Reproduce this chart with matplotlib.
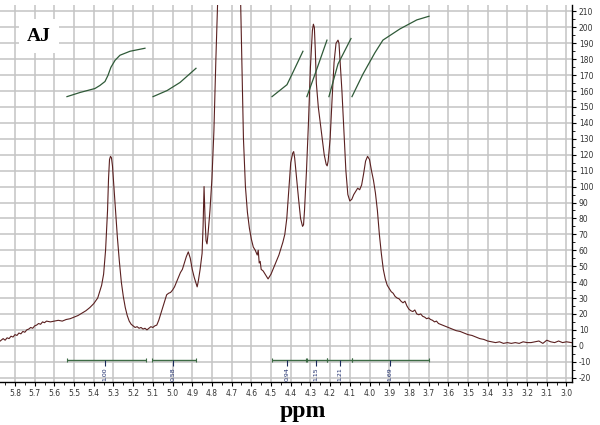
import numpy as np
import matplotlib
matplotlib.use("Agg")
import matplotlib.pyplot as plt
from matplotlib.ticker import MultipleLocator, FormatStrFormatter

# spectrum (ppm, intensity)
ppm = [5.875, 5.86, 5.85, 5.84, 5.83, 5.82, 5.81, 5.80, 5.79, 5.78, 5.77, 5.76, 5.75, 5.74,
       5.73, 5.72, 5.71, 5.70, 5.69, 5.68, 5.67, 5.66, 5.65, 5.64, 5.62, 5.60, 5.58, 5.56,
       5.54, 5.52, 5.50, 5.48, 5.46, 5.44, 5.42, 5.40, 5.38, 5.36, 5.35, 5.34, 5.33, 5.325,
       5.32, 5.315, 5.31, 5.305, 5.30, 5.29, 5.28, 5.27, 5.26, 5.25, 5.24, 5.23, 5.22, 5.21,
       5.20, 5.19, 5.18, 5.17, 5.16, 5.15, 5.14, 5.13, 5.12, 5.11, 5.10, 5.09, 5.08, 5.07,
       5.06, 5.05, 5.04, 5.03, 5.02, 5.01, 5.00, 4.99, 4.98, 4.97, 4.96, 4.95, 4.94, 4.93,
       4.92, 4.91, 4.90, 4.89, 4.88, 4.875, 4.87, 4.86, 4.85, 4.845, 4.84, 4.835, 4.83, 4.825,
       4.82, 4.81, 4.80, 4.79, 4.78, 4.76, 4.74, 4.72, 4.70, 4.68, 4.66, 4.65, 4.64, 4.63,
       4.62, 4.61, 4.60, 4.59, 4.58, 4.57, 4.565, 4.56, 4.555, 4.55, 4.54, 4.53, 4.52, 4.515,
       4.51, 4.50, 4.49, 4.48, 4.47, 4.46, 4.45, 4.44, 4.43, 4.42, 4.41, 4.40, 4.39, 4.385,
       4.38, 4.37, 4.36, 4.35, 4.34, 4.335, 4.33, 4.32, 4.31, 4.30, 4.29, 4.285, 4.28, 4.275,
       4.27, 4.26, 4.25, 4.24, 4.23, 4.22, 4.215, 4.21, 4.20, 4.19, 4.18, 4.17, 4.16, 4.155,
       4.15, 4.14, 4.13, 4.12, 4.11, 4.10, 4.09, 4.08, 4.07, 4.06, 4.05, 4.04, 4.03, 4.02,
       4.01, 4.00, 3.99, 3.98, 3.97, 3.96, 3.95, 3.94, 3.93, 3.92, 3.91, 3.90, 3.89, 3.88,
       3.87, 3.86, 3.85, 3.84, 3.83, 3.82, 3.81, 3.80, 3.79, 3.78, 3.77, 3.76, 3.75, 3.74,
       3.73, 3.72, 3.71, 3.70, 3.69, 3.68, 3.67, 3.66, 3.65, 3.64, 3.63, 3.62, 3.61, 3.60,
       3.58, 3.56, 3.54, 3.52, 3.50, 3.48, 3.46, 3.44, 3.42, 3.40, 3.38, 3.36, 3.34, 3.32,
       3.30, 3.28, 3.26, 3.24, 3.22, 3.20, 3.18, 3.16, 3.14, 3.12, 3.10, 3.08, 3.06, 3.04,
       3.02, 3.00, 2.975]
intensity = [3, 4.5, 3.5, 5, 4.5, 6, 5.5, 7, 6.5, 8, 7.5, 9, 8.5, 10,
             10.5, 11.5, 11, 12.5, 13, 14, 13.5, 15, 14.5, 15.5, 15, 15.5, 16, 15.5,
             16.5, 17, 18, 19, 20.5, 22, 24, 26.5, 30, 38, 45, 60, 85, 105,
             117, 119, 118, 113, 104, 85, 68, 53, 40, 31, 24, 19, 15.5, 13.5,
             12.5, 11.5, 12, 11, 11.5, 10.5, 11, 10, 11, 12, 11.5, 12.5, 13, 16,
             20, 24, 28, 32, 33, 33.5, 35, 37, 40, 43, 46, 48, 52, 56,
             59, 55, 48, 43, 39, 37, 40, 48, 58, 75, 100, 80, 66, 64,
             70, 85, 105, 135, 180, 260, 340, 380, 360, 290, 250, 190, 130, 100,
             84, 74, 67, 62, 60, 57, 60, 52, 53, 48, 47, 45, 43, 42,
             43, 45, 48, 51, 54, 57, 61, 65, 70, 80, 98, 115, 121, 122,
             118, 105, 92, 80, 75, 76, 85, 110, 140, 175, 198, 202, 200, 185,
             165, 150, 140, 130, 120, 114, 113, 116, 130, 155, 178, 190, 192, 190,
             180, 160, 135, 110, 95, 91, 92, 95, 97, 99, 98, 101, 108, 116,
             119, 117, 110, 104, 96, 85, 70, 58, 48, 42, 38, 36, 34, 33,
             31, 30, 29.5, 28, 27, 28, 25, 23, 22, 21.5, 22.5, 20, 19.5, 20,
             18.5, 18, 17, 17.5, 16.5, 16, 15, 15.5, 14, 13.5, 13, 12.5, 12, 11.5,
             10.5, 9.5, 9, 8, 7, 6.5, 5.5, 4.5, 4, 3, 2.5, 2, 2.5, 1.5,
             2, 1.5, 2, 1.5, 2.5, 2, 2, 2.5, 3, 1.5, 3.5, 2.5, 2, 3,
             2, 2.5, 2]

# integral curves (green)
int_ppm = [
    [5.536, 5.470, 5.394, 5.369, 5.343, 5.328, 5.313, 5.292, 5.267, 5.216, 5.140],
    [5.099, 5.028, 4.962, 4.881],
    [4.495, 4.419, 4.389, 4.338],
    [4.318, 4.277, 4.216],
    [4.206, 4.160, 4.094],
    [4.089, 4.034, 3.973, 3.932, 3.846, 3.760, 3.698],
]
int_val = [
    [156.5, 159.1, 161.6, 163.5, 166.0, 169.8, 174.9, 179.3, 182.5, 185.0, 186.9],
    [156.5, 160.3, 165.4, 174.3],
    [156.5, 164.0, 171.7, 185.0],
    [156.5, 170.5, 192.0],
    [156.5, 177.0, 193.0],
    [156.5, 170.5, 184.0, 192.0, 199.0, 204.7, 207.0],
]

# integration ranges and values
rng_start = [5.536, 5.105, 4.495, 4.318, 4.216, 4.089]
rng_end = [5.135, 4.881, 4.323, 4.216, 4.089, 3.698]
rng_mid = [5.343, 4.998, 4.419, 4.272, 4.150, 3.896]
rng_label = ["1.00", "0.58", "0.94", "1.15", "1.21", "1.69"]

fig = plt.figure(figsize=(6, 4.25), dpi=100)
ax = fig.add_axes([0.0, 0.101, 0.953, 0.887])

ax.plot(ppm, intensity, color="#5a2020", lw=0.8)

for xs, ys in zip(int_ppm, int_val):
    ax.plot(xs, ys, color="#2f5a38", lw=0.9)

bar_y = -9
green = "#3d6b45"
ax.hlines([bar_y] * len(rng_start), rng_start, rng_end, color=green, lw=1.0)
ax.vlines(rng_start + rng_end, bar_y - 1.5, bar_y + 1.5, color=green, lw=0.8)
ax.vlines(rng_mid, bar_y - 4, bar_y, color="#1a2a5a", lw=0.8)
for xm, lab in zip(rng_mid, rng_label):
    ax.text(xm, -13.5, lab, rotation=90, ha="center", va="top",
            fontsize=4.5, color="#1a2a6a")

ax.set_xlim(5.876, 2.973)
ax.set_ylim(-22.8, 214)

# grid and axes
ax.xaxis.set_major_locator(MultipleLocator(0.1))
ax.xaxis.set_minor_locator(MultipleLocator(0.05))
ax.xaxis.set_major_formatter(FormatStrFormatter("%.1f"))
ax.yaxis.set_major_locator(MultipleLocator(10))
ax.yaxis.set_minor_locator(MultipleLocator(5))
ax.yaxis.tick_right()
ax.grid(True, which="major", color="#c4c4c4", lw=1.1)
ax.set_axisbelow(True)
ax.spines["top"].set_visible(False)
ax.spines["left"].set_visible(False)
ax.spines["right"].set_linewidth(1.0)
ax.spines["bottom"].set_linewidth(1.0)
ax.tick_params(axis="both", which="major", direction="out", length=3, width=0.8,
               labelsize=5.5, labelcolor="#333333", pad=2)
ax.tick_params(axis="both", which="minor", direction="out", length=2, width=0.6)
ax.yaxis.set_major_formatter(plt.FuncFormatter(lambda v, p: "%d" % v if v >= 0 else "-%d" % -v))

ax.text(0.065, 0.915, "AJ", transform=fig.transFigure, ha="center", va="center",
        fontsize=14, fontweight="bold", family="Liberation Serif",
        bbox=dict(facecolor="white", edgecolor="none", pad=6))

fig.text(0.505, 0.019, "ppm", ha="center", va="baseline", fontsize=17,
         fontweight="bold", family="Liberation Serif")

fig.savefig("out.png", dpi=100)
